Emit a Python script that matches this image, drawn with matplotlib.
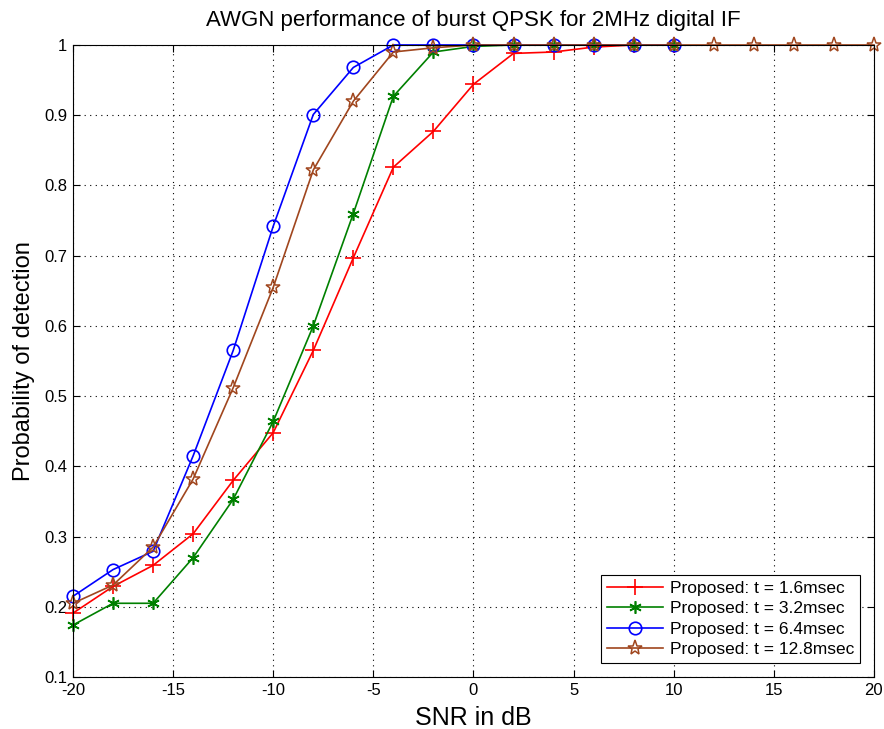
import matplotlib
matplotlib.use('Agg')
import matplotlib.pyplot as plt

plt.rcParams['font.family'] = ['Liberation Sans', 'DejaVu Sans']
plt.rcParams['axes.unicode_minus'] = False

snr = [-20, -18, -16, -14, -12, -10, -8, -6, -4, -2, 0, 2, 4, 6, 8, 10]
snr_long = [-20, -18, -16, -14, -12, -10, -8, -6, -4, -2, 0, 2, 4, 6, 8, 10,
            12, 14, 16, 18, 20]

pd_16 = [0.191, 0.229, 0.259, 0.304, 0.380, 0.448, 0.565, 0.697, 0.826, 0.877,
         0.944, 0.988, 0.990, 0.997, 1.0, 1.0]
pd_32 = [0.174, 0.205, 0.205, 0.270, 0.353, 0.464, 0.600, 0.760, 0.927, 0.990,
         0.998, 1.0, 1.0, 1.0, 1.0, 1.0]
pd_64 = [0.215, 0.253, 0.279, 0.415, 0.565, 0.742, 0.901, 0.968, 1.0, 1.0,
         1.0, 1.0, 1.0, 1.0, 1.0, 1.0]
pd_128 = [0.205, 0.231, 0.285, 0.382, 0.512, 0.655, 0.822, 0.920, 0.990, 0.996,
          1.0, 1.0, 1.0, 1.0, 1.0, 1.0, 1.0, 1.0, 1.0, 1.0, 1.0]

labels = ['Proposed: t = 1.6msec', 'Proposed: t = 3.2msec',
          'Proposed: t = 6.4msec', 'Proposed: t = 12.8msec']

fig = plt.figure(figsize=(8.84, 7.29), dpi=100)
ax = fig.add_axes([0.0826, 0.0713, 0.906, 0.867])

ax.plot(snr, pd_16, color='red', marker='+', markersize=11, mew=1.2, lw=1.2,
        label=labels[0], clip_on=False)
ax.plot(snr, pd_32, color='#008000', marker=(6, 2, 0), markersize=9, mew=1.2, lw=1.2,
        label=labels[1], clip_on=False)
ax.plot(snr, pd_64, color='blue', marker='o', markersize=9, mfc='none', mew=1.2, lw=1.2,
        label=labels[2], clip_on=False)
ax.plot(snr_long, pd_128, color='#A0461E', marker='*', markersize=11, mfc='none', mew=1.1,
        lw=1.2, label=labels[3], clip_on=False)

ax.set_xlim(-20, 20)
ax.set_ylim(0.1, 1)
ax.set_xticks(range(-20, 21, 5))
ax.set_yticks([i / 10 for i in range(1, 11)])
ax.set_yticklabels(['0.1', '0.2', '0.3', '0.4', '0.5', '0.6', '0.7', '0.8', '0.9', '1'])
ax.tick_params(direction='in', labelsize=12, top=True, right=True, length=5, pad=4)
ax.grid(True, color='black', linestyle=(0, (1, 4)), linewidth=0.8)

ax.set_title('AWGN performance of burst QPSK for 2MHz digital IF', fontsize=16, pad=14)
ax.set_xlabel('SNR in dB', fontsize=18, labelpad=6)
ax.set_ylabel('Probability of detection', fontsize=17, labelpad=7)

leg = ax.legend(loc='lower right', fontsize=12.5, fancybox=False, framealpha=1,
                edgecolor='black', handlelength=3.2, borderaxespad=0.8,
                labelspacing=0.3, borderpad=0.35, handletextpad=0.4)
leg.get_frame().set_linewidth(0.8)

plt.savefig('out.png', dpi=100)
